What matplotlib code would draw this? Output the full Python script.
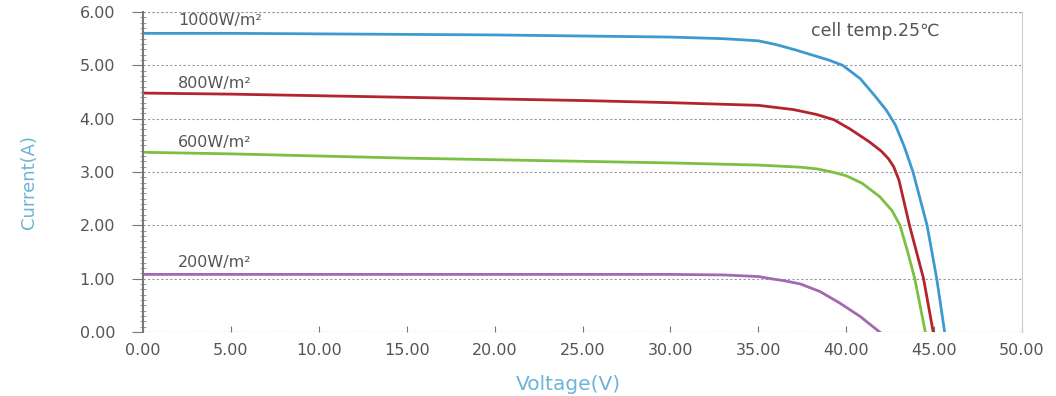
import numpy as np
import matplotlib.pyplot as plt
from matplotlib.ticker import MultipleLocator

# I-V curves (voltage V, current A)
v_1000 = [0, 5, 10, 15, 20, 25, 30, 33, 35, 36, 37, 38, 39, 39.8, 40.8, 41.7, 42.3, 42.8, 43.3, 43.8, 44.6, 45.15, 45.6]
i_1000 = [5.60, 5.60, 5.59, 5.58, 5.57, 5.55, 5.53, 5.50, 5.46, 5.39, 5.30, 5.20, 5.10, 5.00, 4.75, 4.40, 4.15, 3.88, 3.48, 3.00, 2.00, 1.00, 0.00]
v_800 = [0, 5, 10, 15, 20, 25, 30, 35, 37, 38.3, 39.3, 40.2, 41.3, 42.0, 42.4, 42.7, 43.0, 43.6, 44.4, 44.95]
i_800 = [4.48, 4.46, 4.43, 4.40, 4.37, 4.34, 4.30, 4.25, 4.17, 4.08, 3.98, 3.81, 3.57, 3.39, 3.25, 3.10, 2.85, 2.00, 1.00, 0.00]
v_600 = [0, 5, 10, 15, 20, 25, 30, 35, 37.4, 38.3, 39.2, 40.0, 40.9, 41.9, 42.6, 43.06, 43.5, 43.9, 44.2, 44.5]
i_600 = [3.37, 3.34, 3.30, 3.26, 3.23, 3.20, 3.17, 3.13, 3.09, 3.06, 3.00, 2.93, 2.79, 2.54, 2.28, 2.00, 1.50, 1.00, 0.50, 0.00]
v_200 = [0, 5, 10, 15, 20, 25, 30, 33, 35, 35.7, 36.5, 37.4, 38.5, 39.6, 40.8, 41.9]
i_200 = [1.08, 1.08, 1.08, 1.08, 1.08, 1.08, 1.08, 1.07, 1.04, 1.00, 0.96, 0.90, 0.76, 0.55, 0.29, 0.00]

series = [
    (v_1000, i_1000, '#3d9ad1', '1000W/m²', 5.85),
    (v_800, i_800, '#b3242c', '800W/m²', 4.66),
    (v_600, i_600, '#7cc043', '600W/m²', 3.55),
    (v_200, i_200, '#a368b3', '200W/m²', 1.30),
]

fig = plt.figure(figsize=(10.56, 3.96), dpi=100)
ax = fig.add_axes([143/1056, 1-332/396, (1022-143)/1056, (332-12)/396])

for v, i, c, lab, ly in series:
    ax.plot(v, i, color=c, lw=2)
    ax.text(2.0, ly, lab, color='#555555', fontsize=11.5, va='center')

ax.text(38.0, 5.65, 'cell temp.25℃', color='#555555', fontsize=12.5, va='center')

ax.set_xlim(0, 50)
ax.set_ylim(0, 6)
ax.xaxis.set_major_locator(MultipleLocator(5))
ax.yaxis.set_major_locator(MultipleLocator(1))
ax.yaxis.set_minor_locator(MultipleLocator(0.1))
ax.set_xticklabels([f'{x:.2f}' for x in ax.get_xticks()])
ax.set_yticklabels([f'{y:.2f}' for y in ax.get_yticks()])
ax.tick_params(axis='both', colors='#777777', labelcolor='#555555', labelsize=11.5)
ax.tick_params(axis='x', direction='in', length=4, pad=8)
ax.tick_params(axis='y', which='major', direction='out', length=8, pad=12)
ax.tick_params(axis='y', which='minor', direction='inout', length=4, color='#888888')

ax.grid(axis='y', color='#999999', ls=(0, (2, 2)), lw=0.8)
for s in ['top', 'bottom']:
    ax.spines[s].set_visible(False)
ax.spines['left'].set_color('#777777')
ax.spines['left'].set_linewidth(1.5)
ax.spines['right'].set_color('#cccccc')
ax.axhline(6, color='#999999', ls=(0, (2, 2)), lw=0.8)
ax.axhline(0, color='#999999', ls=(0, (2, 2)), lw=0.8)

ax.set_xlabel('Voltage(V)', color='#6cb4d8', fontsize=14.5)
ax.xaxis.set_label_coords(0.4835, -0.135)
ax.set_ylabel('Current(A)', color='#6cb4d8', fontsize=13)
ax.yaxis.set_label_coords(-0.12, 0.47)

fig.savefig('out.png', dpi=100)
